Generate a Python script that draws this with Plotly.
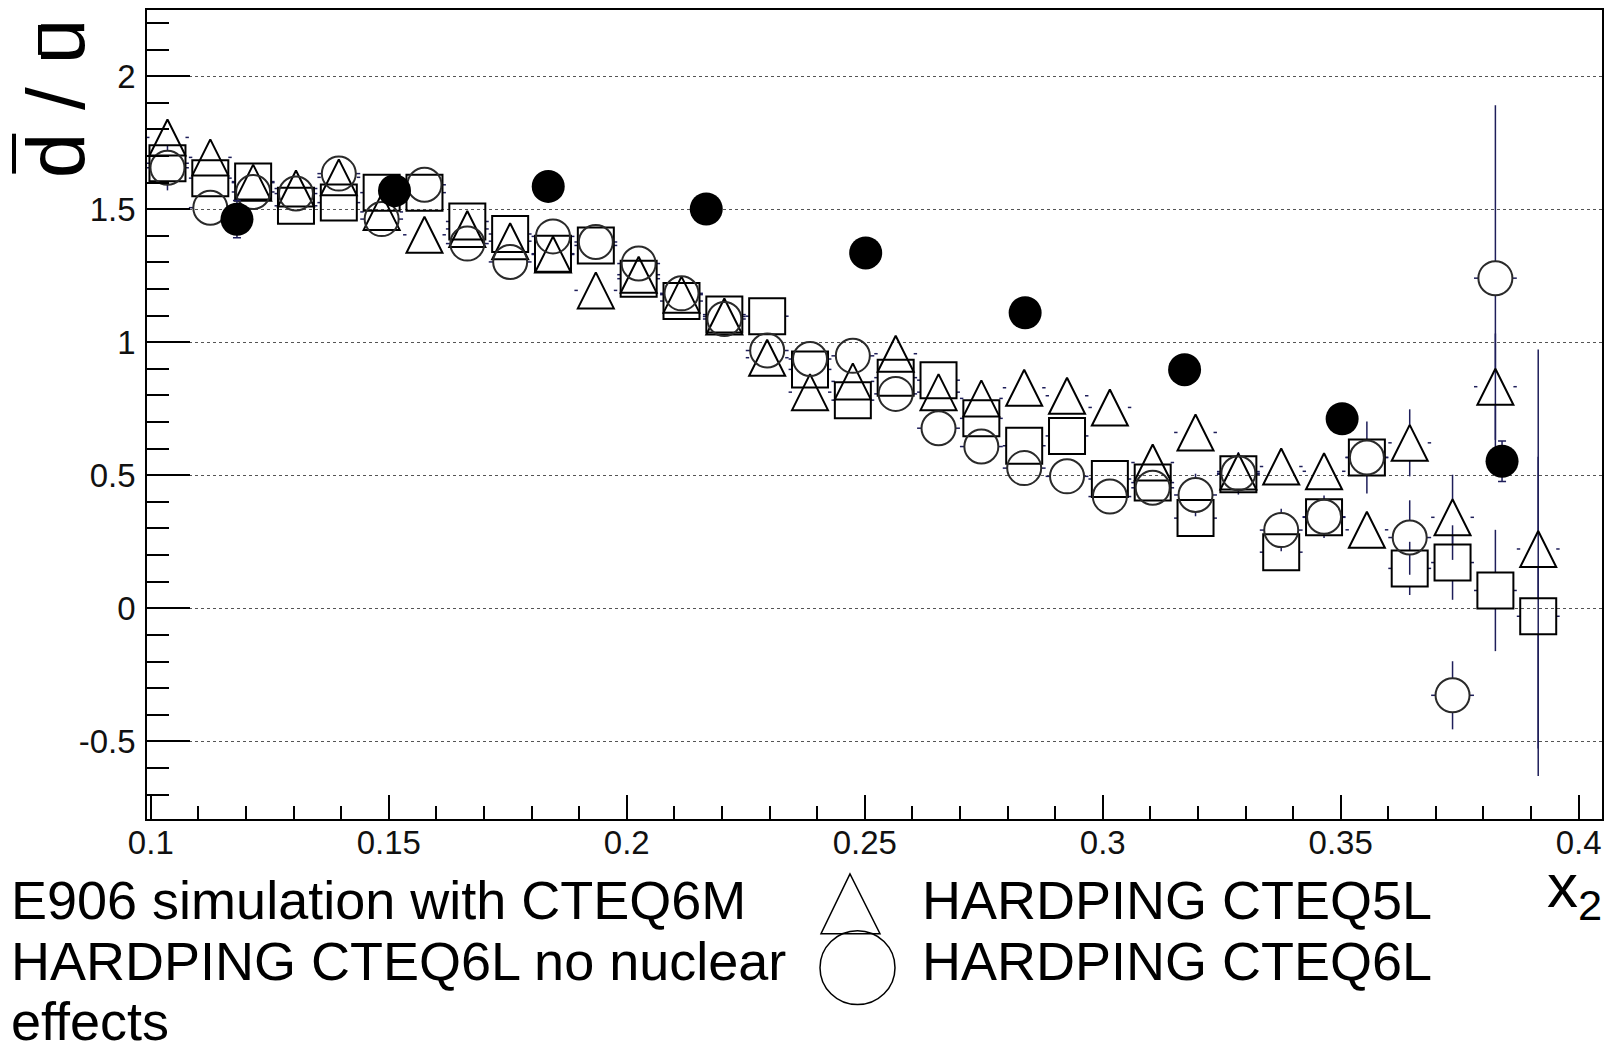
import plotly.graph_objects as go

# ---------------- data ----------------
x_bins = [0.1035, 0.1125, 0.1215, 0.1305, 0.1395, 0.1485, 0.1575, 0.1665, 0.1755,
          0.1845, 0.1935, 0.2025, 0.2115, 0.2205, 0.2295, 0.2385, 0.2475, 0.2565,
          0.2655, 0.2745, 0.2835, 0.2925, 0.3015, 0.3105, 0.3195, 0.3285, 0.3375,
          0.3465, 0.3555, 0.3645, 0.3735, 0.3825, 0.3915]
x_half_width = 0.0045

# HARDPING CTEQ5L (open triangles)
tri_y = [1.77, 1.695, 1.60, 1.578, 1.62, 1.49, 1.404, 1.426, 1.38, 1.33, 1.195,
         1.254, 1.179, 1.097, 0.942, 0.8125, 0.853, 0.957, 0.8125, 0.789, 0.829,
         0.799, 0.755, 0.548, 0.661, 0.514, 0.533, 0.515, 0.295, 0.622, 0.342,
         0.833, 0.223]
tri_err = [0.03, 0.03, 0.03, 0.03, 0.03, 0.03, 0.03, 0.03, 0.03, 0.03, 0.03,
           0.03, 0.03, 0.03, 0.03, 0.04, 0.04, 0.04, 0.04, 0.04, 0.04,
           0.04, 0.04, 0.05, 0.05, 0.05, 0.05, 0.06, 0.06, 0.126, 0.16,
           0.2, 0.75]

# HARDPING CTEQ6L (open circles)
circ_y = [1.656, 1.506, 1.565, 1.559, 1.634, 1.463, 1.592, 1.371, 1.302, 1.398,
          1.377, 1.296, 1.184, 1.0875, 0.969, 0.937, 0.949, 0.806, 0.677, 0.608,
          0.527, 0.496, 0.42, 0.453, 0.426, 0.5075, 0.294, 0.344, 0.567, 0.266,
          -0.327, 1.241]
circ_err = [0.085, 0.04, 0.04, 0.04, 0.04, 0.04, 0.04, 0.04, 0.04, 0.04,
            0.04, 0.04, 0.04, 0.04, 0.04, 0.04, 0.05, 0.05, 0.05, 0.05,
            0.05, 0.05, 0.05, 0.06, 0.08, 0.08, 0.08, 0.08, 0.135, 0.14,
            0.128, 0.65]

# HARDPING CTEQ6L no nuclear effects (open squares)
sq_y = [1.673, 1.617, 1.604, 1.513, 1.525, 1.5625, 1.5625, 1.454, 1.407, 1.333,
        1.364, 1.239, 1.155, 1.104, 1.098, 0.898, 0.7825, 0.867, 0.8575, 0.714,
        0.611, 0.648, 0.486, 0.4725, 0.339, 0.504, 0.211, 0.342, 0.567, 0.150,
        0.172, 0.067, -0.030]
sq_err = [0.03, 0.03, 0.03, 0.03, 0.03, 0.03, 0.03, 0.03, 0.03, 0.03,
          0.03, 0.03, 0.03, 0.03, 0.03, 0.04, 0.04, 0.04, 0.04, 0.04,
          0.04, 0.04, 0.05, 0.05, 0.05, 0.05, 0.06, 0.06, 0.06, 0.10,
          0.14, 0.228, 0.6]

# E906 simulation with CTEQ6M (filled circles)
e906_x = [0.1181, 0.1512, 0.1835, 0.2167, 0.2502, 0.2837, 0.3172, 0.3503, 0.3839]
e906_y = [1.4625, 1.57, 1.586, 1.501, 1.336, 1.111, 0.897, 0.7125, 0.553]
e906_err = [0.07, 0.04, 0.04, 0.04, 0.04, 0.04, 0.04, 0.05, 0.076]

x_tick_vals = [0.1, 0.15, 0.2, 0.25, 0.3, 0.35, 0.4]
x_tick_text = ["0.1", "0.15", "0.2", "0.25", "0.3", "0.35", "0.4"]
y_tick_vals = [-0.5, 0, 0.5, 1, 1.5, 2]
y_tick_text = ["-0.5", "0", "0.5", "1", "1.5", "2"]

legend_left = ["E906 simulation with CTEQ6M", "HARDPING CTEQ6L no nuclear", "effects"]
legend_right = ["HARDPING CTEQ5L", "HARDPING CTEQ6L"]

# ---------------- layout constants ----------------
W, H = 1613, 1042
ML, MR, MT, MB = 147, 11, 8, 223
X_RANGE = [0.0992, 0.4049]
Y_RANGE = [-0.792, 2.249]
PLOT_W = W - ML - MR
PLOT_H = H - MT - MB
FONT = "Liberation Sans, Arial, Helvetica, sans-serif"
ERR_COLOR = "#1e1e5a"


def px_x(px):
    return (px - ML) / PLOT_W


def px_y(py):
    return (H - MB - py) / PLOT_H


def err_segments(xs, ys, eys, half_marker):
    gx = half_marker * (X_RANGE[1] - X_RANGE[0]) / PLOT_W
    gy = half_marker * (Y_RANGE[1] - Y_RANGE[0]) / PLOT_H
    sx, sy = [], []
    for x, y, ey in zip(xs, ys, eys):
        if x_half_width > gx:
            sx += [x - x_half_width, x - gx, None, x + gx, x + x_half_width, None]
            sy += [y, y, None, y, y, None]
        if ey > gy:
            sx += [x, x, None, x, x, None]
            sy += [y + gy, y + ey, None, y - gy, y - ey, None]
    return sx, sy


fig = go.Figure()

seg_x, seg_y = [], []
for ys, es, hm in ((sq_y, sq_err, 18), (tri_y, tri_err, 18), (circ_y, circ_err, 17)):
    a, b = err_segments(x_bins[:len(ys)], ys, es, hm)
    seg_x += a
    seg_y += b

fig.add_trace(go.Scatter(x=seg_x, y=seg_y, mode="lines",
                         line=dict(color=ERR_COLOR, width=1.5),
                         hoverinfo="skip", showlegend=False))

fig.add_trace(go.Scatter(
    x=x_bins[:len(sq_y)], y=sq_y, mode="markers",
    name="HARDPING CTEQ6L no nuclear effects",
    marker=dict(symbol="square-open", size=36, color="black",
                line=dict(width=2, color="black"))))

fig.add_trace(go.Scatter(
    x=x_bins[:len(tri_y)], y=tri_y, mode="markers", name="HARDPING CTEQ5L",
    marker=dict(symbol="arrow-down-open", angle=180, standoff=18, size=36,
                color="black", line=dict(width=2, color="black"))))

fig.add_trace(go.Scatter(
    x=x_bins[:len(circ_y)], y=circ_y, mode="markers", name="HARDPING CTEQ6L",
    marker=dict(symbol="circle-open", size=34, color="#2a2a2a",
                line=dict(width=2, color="#2a2a2a"))))

fig.add_trace(go.Scatter(
    x=e906_x, y=e906_y, mode="markers", name="E906 simulation with CTEQ6M",
    marker=dict(symbol="circle", size=33, color="black", line=dict(width=0)),
    error_y=dict(type="data", array=e906_err, visible=True, color=ERR_COLOR,
                 thickness=1.5, width=4)))

fig.update_layout(
    width=W, height=H,
    margin=dict(l=ML, r=MR, t=MT, b=MB, pad=0),
    paper_bgcolor="white", plot_bgcolor="white",
    showlegend=False,
    font=dict(family=FONT, color="black"),
    xaxis=dict(range=X_RANGE, showline=True, mirror=True, linecolor="black",
               linewidth=1.5, ticks="inside", ticklen=24, tickwidth=1.5,
               tickcolor="black", tickmode="array", tickvals=x_tick_vals,
               ticktext=x_tick_text, showgrid=False, zeroline=False,
               tickfont=dict(size=33, family=FONT, color="#111"),
               ticklabelstandoff=-6,
               minor=dict(ticks="inside", ticklen=13, tickwidth=1.5,
                          tickcolor="black", tickmode="linear", tick0=0.1,
                          dtick=0.01, showgrid=False)),
    yaxis=dict(range=Y_RANGE, showline=True, mirror=True, linecolor="black",
               linewidth=1.5, ticks="inside", ticklen=43, tickwidth=1.5,
               tickcolor="black", tickmode="array", tickvals=y_tick_vals,
               ticktext=y_tick_text, showgrid=True, gridcolor="#555",
               griddash="dot", gridwidth=1, zeroline=False,
               tickfont=dict(size=33, family=FONT, color="#111"),
               ticklabelstandoff=3,
               minor=dict(ticks="inside", ticklen=22, tickwidth=1.5,
                          tickcolor="black", tickmode="linear", tick0=0,
                          dtick=0.1, showgrid=False)),
)

annotations = []
# y axis title
annotations.append(dict(text="d / u", textangle=-90, x=px_x(55), y=px_y(96.5),
                        xref="paper", yref="paper", xanchor="center",
                        yanchor="middle", showarrow=False,
                        font=dict(size=82, family=FONT, color="black")))
# x axis title
annotations.append(dict(text="x<sub>2</sub>", x=px_x(1604), y=px_y(890),
                        xref="paper", yref="paper", xanchor="right",
                        yanchor="middle", showarrow=False,
                        font=dict(size=62, family=FONT, color="black")))
# legend texts
row_y = [900, 961.5, 1022]
for i, t in enumerate(legend_left):
    annotations.append(dict(text=t, x=px_x(9), y=px_y(row_y[i]), xref="paper",
                            yref="paper", xanchor="left", yanchor="middle",
                            showarrow=False,
                            font=dict(size=54, family=FONT, color="black")))
for i, t in enumerate(legend_right):
    annotations.append(dict(text=t, x=px_x(920), y=px_y(row_y[i]), xref="paper",
                            yref="paper", xanchor="left", yanchor="middle",
                            showarrow=False,
                            font=dict(size=54, family=FONT, color="black")))
fig.update_layout(annotations=annotations)

shapes = []
# overlines of the y title
shapes.append(dict(type="line", xref="paper", yref="paper",
                   x0=px_x(14), x1=px_x(14), y0=px_y(132), y1=px_y(172),
                   line=dict(color="black", width=4)))
shapes.append(dict(type="line", xref="paper", yref="paper",
                   x0=px_x(40), x1=px_x(40), y0=px_y(23), y1=px_y(53),
                   line=dict(color="black", width=4)))
# legend markers
tri_path = "M {:.5f},{:.5f} L {:.5f},{:.5f} L {:.5f},{:.5f} Z".format(
    px_x(850), px_y(874), px_x(821), px_y(934), px_x(880), px_y(934))
shapes.append(dict(type="path", xref="paper", yref="paper", path=tri_path,
                   line=dict(color="black", width=1.5)))
shapes.append(dict(type="circle", xref="paper", yref="paper",
                   x0=px_x(820), x1=px_x(895), y0=px_y(1005), y1=px_y(931),
                   line=dict(color="black", width=1.5)))
fig.update_layout(shapes=shapes)

fig.write_html("out.html")
